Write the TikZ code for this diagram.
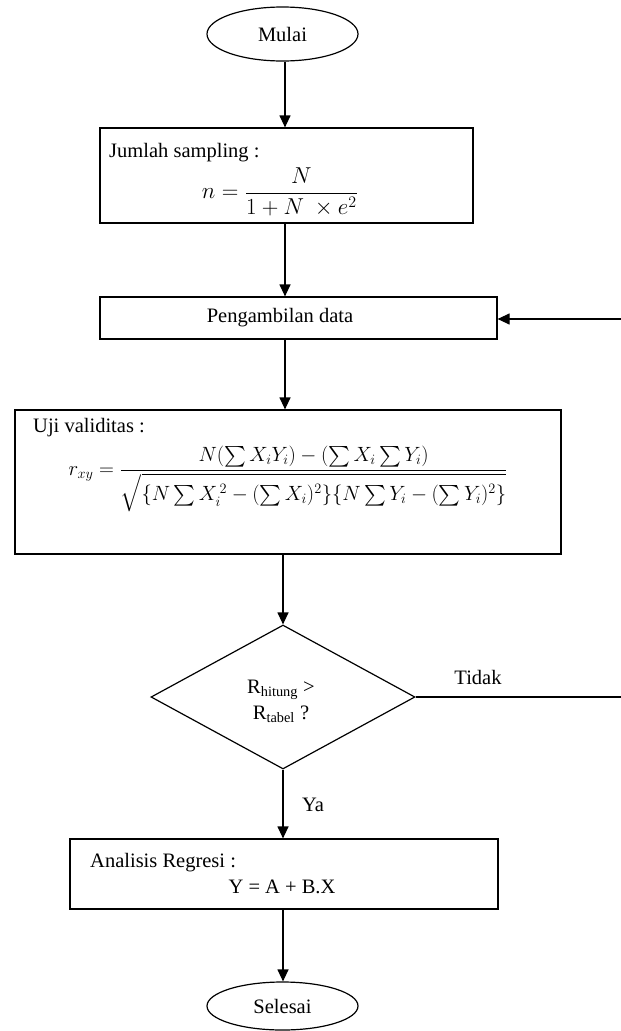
\documentclass[tikz,border=0pt]{standalone}
\usepackage{fontspec}
\setmainfont{Liberation Serif}
\usepackage{amsmath}
\usepackage{graphicx}
\usetikzlibrary{shapes.geometric,arrows.meta}
\begin{document}
\begin{tikzpicture}[x=1pt,y=-1pt,
  every node/.style={font=\fontsize{20.5}{24}\selectfont},
  line/.style={line width=1.2pt},
  arr/.style={line width=1.2pt,-{Triangle[width=11pt,length=12pt]}},
  term/.style={draw,line width=1.2pt,ellipse,inner sep=0pt},
  proc/.style={draw,line width=1.2pt,rectangle,inner sep=0pt},
  dec/.style={draw,line width=1.2pt,diamond,inner sep=0pt,align=center},
  lbl/.style={inner sep=0pt}]
\useasboundingbox (0,0) rectangle (621,1031);
% nodes
\node[term,minimum width=151pt,minimum height=54pt] (mulai) at (282.5,34) {Mulai};
\node[proc,minimum width=373pt,minimum height=95pt] (box1) at (286.5,175.5) {};
\node[lbl,anchor=west] (t1) at (109,153) {Jumlah sampling :};
\node[lbl] (f1) at (280,192) {\resizebox{156pt}{!}{$\displaystyle n=\frac{N}{1+N\ \times e^{2}}$}};
\node[proc,minimum width=397pt,minimum height=42pt] (box2) at (298.5,318) {};
\node[lbl] (t2) at (280,318) {Pengambilan data};
\node[proc,minimum width=546pt,minimum height=144pt] (box3) at (288,482) {};
\node[lbl,anchor=west] (t3) at (33,428) {Uji validitas :};
\node[lbl] (f3) at (288,479) {\resizebox{439pt}{!}{$\displaystyle r_{xy}=\frac{N(\textstyle\sum X_iY_i)-(\sum X_i\sum Y_i)\rule[-6pt]{0pt}{6pt}}{\sqrt{\rule{0pt}{19pt}\{N\textstyle\sum X_i^{\,2}-(\sum X_i)^2\}\{N\sum Y_i-(\sum Y_i)^2\}}}$}};
\node[dec,minimum width=264pt,minimum height=144pt] (dec) at (283,697) {};
\node[lbl,align=center] (t4) at (281,701) {R\textsubscript{hitung} >\\[2pt]R\textsubscript{tabel} ?};
\node[lbl] (tidak) at (478,677) {Tidak};
\node[lbl] (ya) at (313,805) {Ya};
\node[proc,minimum width=428pt,minimum height=70pt] (box4) at (284,874) {};
\node[lbl,anchor=west] (t5) at (90,863) {Analisis Regresi :};
\node[lbl] (t6) at (282,887) {Y = A + B.X};
\node[term,minimum width=151pt,minimum height=48pt] (selesai) at (282.5,1006) {Selesai};
% spine
\coordinate (sp) at (285,0);
\coordinate (eR) at (621,697);
\coordinate (eT) at (621,319);
% connectors
\draw[arr] (mulai.south -| sp) -- (box1.north -| sp);
\draw[arr] (box1.south -| sp) -- (box2.north -| sp);
\draw[arr] (box2.south -| sp) -- (box3.north -| sp);
\draw[arr] (box3.south -| dec.north) -- (dec.north);
\draw[arr] (dec.south) -- (box4.north -| dec.south);
\draw[arr] (box4.south -| dec.south) -- (selesai.north -| dec.south);
\draw[line] (dec.east) -- (eR);
\draw[arr] (eT) -- (eT -| box2.east);
\end{tikzpicture}
\end{document}
